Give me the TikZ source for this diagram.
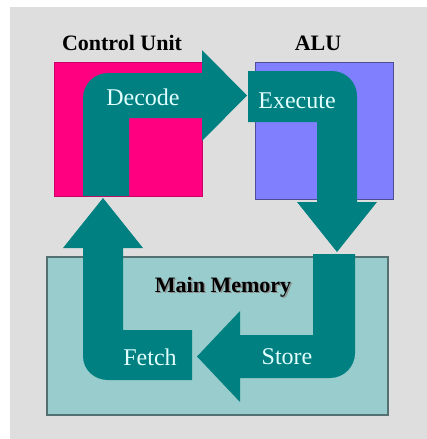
\documentclass[tikz,border=0pt]{standalone}
\usepackage{fontspec}
\setmainfont{Liberation Serif}
\usepackage{xcolor}

\definecolor{cuPink}{RGB}{255,0,128}
\definecolor{aluBlue}{RGB}{128,128,255}
\definecolor{memCyan}{RGB}{153,204,204}
\definecolor{flowTeal}{RGB}{0,128,128}
\definecolor{flowText}{RGB}{225,255,255}
\definecolor{panelGrey}{RGB}{222,222,222}

\tikzset{
  flow/.style={fill=flowTeal, draw=none},
  unitTitle/.style={inner sep=0.75pt, font=\fontsize{16.5}{18}\selectfont\bfseries},
  stepText/.style={inner sep=0.75pt, text=flowText, font=\fontsize{18}{20}\selectfont}
}

\begin{document}
\begin{tikzpicture}[x=0.75pt,y=0.75pt,yscale=-1,xscale=1]
        \path[use as bounding box] (0,0) rectangle (427,439);

        %Shape: Rectangle [id:background]
        \fill [color=panelGrey] (10,7) rectangle (427,439) ;
        %Shape: Rectangle [id:controlunit]
        \draw [draw=cuPink!80!black, fill=cuPink, line width=0.6] (54,62) rectangle (202,196) ;
        %Shape: Rectangle [id:alu]
        \draw [draw=aluBlue!60!black, fill=aluBlue, line width=0.6] (255,62) rectangle (393,199) ;
        %Shape: Rectangle [id:mainmemory]
        \draw [draw=memCyan!55!black, fill=memCyan, line width=0.9] (47,257) rectangle (388,415) ;

        %Shape: Bent Arrow [id:decode]
        \draw [flow] (83,196) -- (83,98) .. controls (83,84.2) and (94.2,73) .. (108,73) -- (202,73) -- (202,50) -- (247,95.5) -- (202,141) -- (202,118) -- (129,118) -- (129,196) -- cycle ;
        %Shape: Bent Arrow [id:execute]
        \draw [flow] (248,71) -- (332,71) .. controls (345.8,71) and (357,82.2) .. (357,96) -- (357,202) -- (377,202) -- (337,252) -- (297,202) -- (317,202) -- (317,122) -- (248,122) -- cycle ;
        %Shape: Bent Arrow [id:store]
        \draw [flow] (313,254) -- (355,254) -- (355,353) .. controls (355,366.8) and (343.8,378) .. (330,378) -- (240,378) -- (240,402) -- (197,356.5) -- (240,311) -- (240,335) -- (313,335) -- cycle ;
        %Shape: Bent Arrow [id:fetch]
        \draw [flow] (123,248) -- (143,248) -- (103,198) -- (63,248) -- (83,248) -- (83,356) .. controls (83,369.8) and (94.2,380) .. (108,380) -- (192,380) -- (192,330) -- (123,330) -- cycle ;

        % Text Node
        \draw (122,43) node [unitTitle] (cuTitle) {Control Unit};
        % Text Node
        \draw (318,43) node [unitTitle] (aluTitle) {ALU};
        % Text Node
        \draw (224.5,288.5) node [unitTitle, text=black!45] {Main Memory};
        \draw (223,287) node [unitTitle] (memTitle) {Main Memory};
        % Text Node
        \draw (143,97) node [stepText] (decodeText) {Decode};
        % Text Node
        \draw (297,101) node [stepText] (executeText) {Execute};
        % Text Node
        \draw (150,357) node [stepText] (fetchText) {Fetch};
        % Text Node
        \draw (287,357) node [stepText] (storeText) {Store};

\end{tikzpicture}
\end{document}
